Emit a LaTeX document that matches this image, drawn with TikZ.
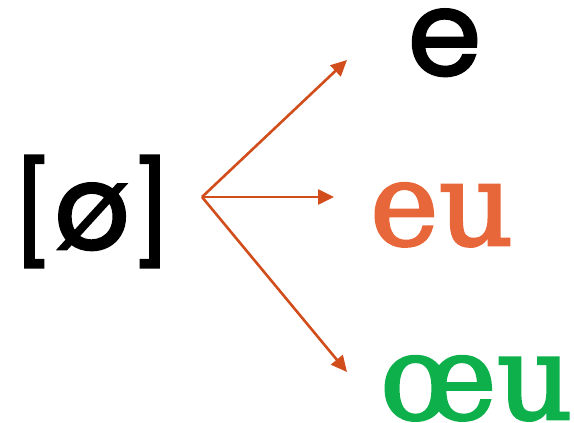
\documentclass[tikz,border=0pt]{standalone}
\usepackage{fontspec}
\usetikzlibrary{arrows.meta}
\newfontfamily\pop[UprightFeatures={FakeBold=2.2}]{Poppins}
\newfontfamily\slab[UprightFeatures={FakeBold=2.2}]{DejaVu Serif}
\definecolor{arrowc}{HTML}{D24D1C}
\definecolor{orangec}{HTML}{E8673A}
\definecolor{greenc}{HTML}{0DB04B}
\begin{document}
\begin{tikzpicture}[x=1pt,y=-1pt,
  lbl/.style={inner sep=0pt,outer sep=0pt,anchor=base west,text height=66pt,text depth=0pt},
  arr/.style={draw=arrowc,line width=2.6pt,-{Triangle[length=16pt,width=15pt]}}]
\useasboundingbox (0,0) rectangle (574,423);
\node[inner sep=0pt,outer sep=0pt,anchor=base west,font=\pop\fontsize{118}{120}\selectfont] (src) at (12,249) {\fontsize{100}{110}\selectfont[\fontsize{118}{120}\selectfont ø\fontsize{100}{110}\selectfont]};
\node[lbl,font=\pop\fontsize{118}{120}\selectfont] (e) at (408,75) {e};
\node[lbl,font=\slab\fontsize{116}{120}\selectfont,text=orangec] (eu) at (370,245) {eu};
\node[lbl,font=\slab\fontsize{118}{120}\selectfont,text=greenc] (oeu) at (380,419) {œu};
\coordinate (o) at (202,197);
\coordinate (te) at (347,60);
\coordinate (teu) at (334,197);
\coordinate (toeu) at (347,372);
\draw[arr] (o) -- (te);
\draw[arr] (o) -- (teu);
\draw[arr] (o) -- (toeu);
\end{tikzpicture}
\end{document}
